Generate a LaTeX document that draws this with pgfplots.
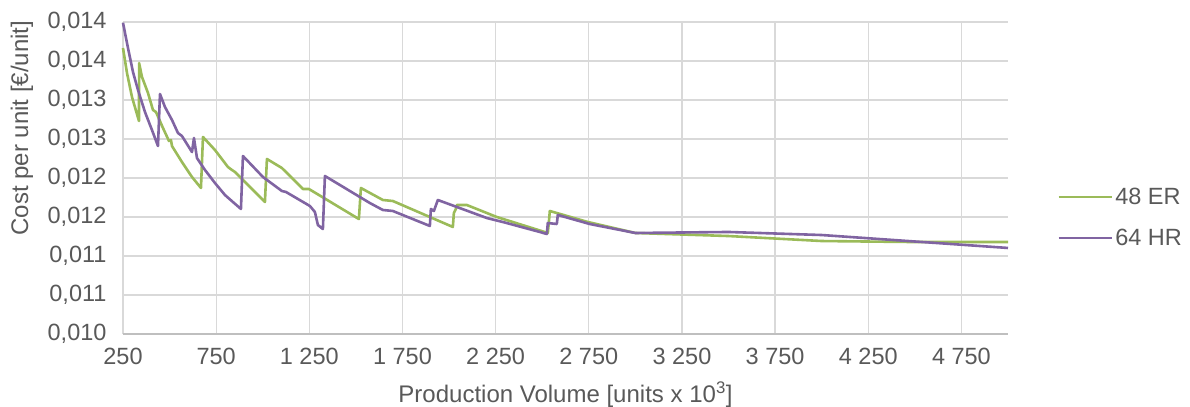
\documentclass[border=0pt]{standalone}
\usepackage{fontspec}
\setmainfont{Liberation Sans}
\usepackage{pgfplots}
\pgfplotsset{compat=1.18}
\definecolor{ger}{HTML}{9BBB59}
\definecolor{phr}{HTML}{8064A2}
\definecolor{txt}{HTML}{595959}
\definecolor{grd}{HTML}{D9D9D9}
\definecolor{axl}{HTML}{BFBFBF}
\newcommand{\chartfont}{\fontsize{23.5bp}{28bp}\selectfont}
\newcommand{\titlefont}{\fontsize{24bp}{28bp}\selectfont}
\begin{document}
\begin{tikzpicture}
\useasboundingbox (-123bp,-73bp) rectangle (1067bp,334bp);
\begin{axis}[
  scale only axis, width=885bp, height=312bp,
  xmin=250, xmax=5000, ymin=0.010, ymax=0.014,
  xtick={250,750,1250,1750,2250,2750,3250,3750,4250,4750},
  xticklabels={250,750,1 250,1 750,2 250,2 750,3 250,3 750,4 250,4 750},
  ytick={0.010,0.0105,0.011,0.0115,0.012,0.0125,0.013,0.0135,0.014},
  yticklabels={{0,010},{0,011},{0,011},{0,012},{0,012},{0,013},{0,013},{0,014},{0,014}},
  scaled y ticks=false,
  grid=major,
  grid style={draw=grd, line width=1.3bp},
  major tick length=0pt,
  axis x line*=bottom, axis y line*=left,
  x axis line style={draw=axl, line width=1.3bp, -},
  y axis line style={draw=none},
  tick label style={font=\chartfont, text=txt},
  xticklabel style={yshift=-11bp},
  yticklabel style={xshift=-13bp},
  xlabel={Production Volume [units x 10\textsuperscript{3}]},
  ylabel={Cost per unit [€/unit]},
  every axis x label/.style={at={(axis description cs:0.5,-0.193)}, anchor=center, font=\titlefont, text=txt},
  every axis y label/.style={at={(axis description cs:-0.1141,0.66)}, anchor=center, rotate=90, font=\titlefont, text=txt},
  clip=false,
  legend style={at={(1.0554,0.3734)}, anchor=west, draw=none, fill=none, inner sep=0pt,
    row sep=18bp, nodes={inner sep=2.5bp, text=txt}, font=\chartfont},
  legend cell align=left,
  legend image code/.code={\draw[#1] (0bp,0bp) -- (53bp,0bp);},
]
\addplot[ger, line width=2.6bp, line join=round] coordinates {
(250,0.013667) (271.5,0.013346) (298.3,0.013038) (335.8,0.012731)
(336.5,0.013474) (351.9,0.013295) (384.1,0.013090) (410.9,0.012872)
(427.0,0.012846) (464.6,0.012641) (496.8,0.012474) (507.5,0.012487)
(512.9,0.012410) (566.5,0.012205) (620.2,0.012013) (668.5,0.011872)
(679.2,0.012526) (743.6,0.012359) (813.3,0.012141) (834.8,0.012103)
(850.9,0.012077) (1011.8,0.011692) (1022.5,0.012244) (1103.0,0.012128)
(1215.7,0.011859) (1247.9,0.011859) (1516.1,0.011474) (1526.8,0.011872)
(1644.8,0.011718) (1698.5,0.011705) (2020.4,0.011372) (2025.8,0.011551)
(2036.5,0.011603) (2041.8,0.011654) (2095.5,0.011654) (2256.4,0.011500)
(2530.0,0.011295) (2535.4,0.011423) (2540.8,0.011577) (2744.6,0.011436)
(3000,0.011295) (3500,0.011256) (4000,0.011192) (4500,0.011179) (5000,0.011179)
};
\addlegendentry{48 ER}
\addplot[phr, line width=2.6bp, line join=round] coordinates {
(250,0.013990) (276.8,0.013667) (303.6,0.013359) (330.5,0.013128)
(368.0,0.012846) (405.6,0.012615) (437.8,0.012410) (448.5,0.013077)
(475.3,0.012910) (512.9,0.012744) (545.1,0.012577) (566.5,0.012538)
(620.2,0.012333) (630.9,0.012513) (647.0,0.012256) (689.9,0.012103)
(743.6,0.011936) (797.2,0.011782) (840.1,0.011692) (883.0,0.011603)
(893.8,0.012282) (1001.1,0.012013) (1103.0,0.011833) (1124.5,0.011821)
(1253.2,0.011641) (1280.0,0.011564) (1296.1,0.011397) (1322.9,0.011346)
(1333.7,0.012026) (1575.1,0.011679) (1644.8,0.011590) (1698.5,0.011577)
(1897.0,0.011385) (1902.4,0.011603) (1918.5,0.011577) (1939.9,0.011718)
(2202.8,0.011487) (2288.6,0.011436) (2487.1,0.011308) (2524.7,0.011282)
(2530.0,0.011423) (2578.3,0.011410) (2583.7,0.011526) (2755.4,0.011410)
(3000,0.011295) (3500,0.011308) (4000,0.011269) (5000,0.011103)
};
\addlegendentry{64 HR}
\end{axis}
\end{tikzpicture}
\end{document}
